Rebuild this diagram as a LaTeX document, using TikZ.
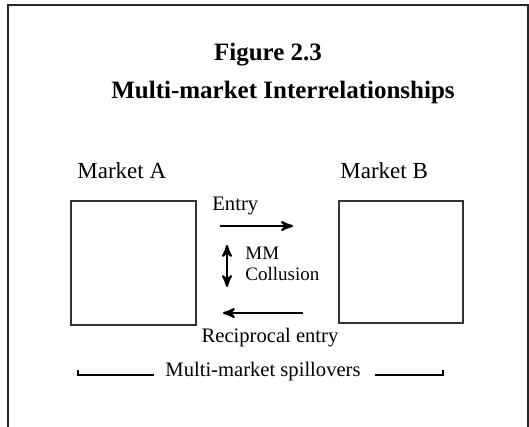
\documentclass[tikz,border=0pt]{standalone}
\usepackage{fontspec}
\setmainfont{Liberation Serif}
\usetikzlibrary{arrows,positioning}

\begin{document}
\begin{tikzpicture}[>=stealth',x=0.5pt,y=-0.5pt,
    market/.style={draw=black!80,line width=0.6pt,minimum width=62.5pt,minimum height=62pt,inner sep=0pt},
    head/.style={font=\fontsize{12.5}{14}\selectfont\bfseries,inner sep=0pt},
    lbl/.style={font=\fontsize{11.5}{13}\selectfont,inner sep=0pt},
    small/.style={font=\fontsize{9.5}{11}\selectfont,inner sep=0pt},
    flow/.style={->,line width=1.1pt}]
  \useasboundingbox (0,0) rectangle (529,427);
  % frame, open at the bottom
  \draw[line width=1pt,black!85] (8,427) -- (8,5) -- (528,5) -- (528,427);

  \node[head] (fig)   at (268,55) {Figure 2.3};
  \node[head] (title) at (283,92) {Multi-market Interrelationships};

  \node[market] (mktA) at (133.5,263) {};
  \node[market,minimum width=62pt,minimum height=61pt] (mktB) at (401,262) {};
  \node[lbl,anchor=west] (nameA) at (77,171)  {Market A};
  \node[lbl,anchor=west] (nameB) at (340,171) {Market B};

  \node[small,anchor=west,font=\fontsize{10.3}{12}\selectfont] (entry) at (212,206) {Entry};
  \node[small,anchor=west] (mm)   at (245,253) {MM};
  \node[small,anchor=west] (coll) at (245,274) {Collusion};
  \node[small,font=\fontsize{10.3}{12}\selectfont] (recip) at (270,338) {Reciprocal entry};
  \node[small,font=\fontsize{10.3}{12}\selectfont] (spill) at (263,372) {Multi-market spillovers};

  \coordinate (entryS) at (220,226);
  \coordinate (entryE) at (293,226);
  \coordinate (collT)  at (227,245);
  \coordinate (collB)  at (227,287);
  \coordinate (recipS) at (303,313);
  \coordinate (recipE) at (223,313);
  \coordinate (brL) at (78,370);
  \coordinate (brR) at (443,370);

  \draw[flow] (entryS) -- (entryE);
  \draw[flow,<->] (collT) -- (collB);
  \draw[flow] (recipS) -- (recipE);

  % bracket under the markets
  \draw[line width=0.6pt] (brL) |- ([xshift=-5.5pt,yshift=1pt]spill.base west);
  \draw[line width=0.6pt] (brR) |- ([xshift=7pt,yshift=1pt]spill.base east);
\end{tikzpicture}
\end{document}
